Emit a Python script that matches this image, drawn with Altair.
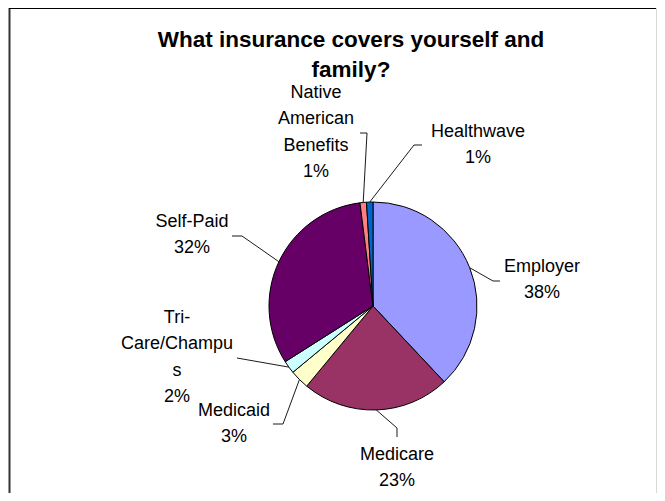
import math
import altair as alt
import pandas as pd

# ---- data ----
categories = ["Employer", "Medicare", "Medicaid", "Tri-Care/Champus", "Self-Paid",
              "Native American Benefits", "Healthwave"]
shares = [38, 23, 3, 2, 32, 1, 1]
label_lines = [
    ["Employer", "38%"],
    ["Medicare", "23%"],
    ["Medicaid", "3%"],
    ["Tri-", "Care/Champu", "s", "2%"],
    ["Self-Paid", "32%"],
    ["Native", "American", "Benefits", "1%"],
    ["Healthwave", "1%"],
]
colors = ["#9999FF", "#993366", "#FFFFCC", "#CCFFFF", "#660066", "#FF8080", "#0066CC"]
title_lines = ["What insurance covers yourself and", "family?"]

# ---- layout (plot-area pixels) ----
W, H = 649, 485
CX, CY, R = 365, 298, 104
# label anchor: centre x, first-line baseline y
label_x = [534, 389, 226, 169, 184, 308, 470]
label_y = [264, 452, 408, 315, 219, 90, 129]
# leader line elbow and end points
elbow = [(485, 273), (389, 420), (275, 416), (229, 350), (234, 228), (359, 125), (406, 137)]
lend = [(492, 273), (389, 429), (265, 416), (229, 350), (224, 228), (352, 125), (414, 137)]

df = pd.DataFrame({"name": categories, "value": shares, "idx": list(range(len(shares)))})

total = sum(shares)
cum = 0
line_rows = []
for i, v in enumerate(shares):
    mid = (cum + v / 2) / total * 2 * math.pi
    cum += v
    ax = CX + R * math.sin(mid)
    ay = CY - R * math.cos(mid)
    pts = [(ax, ay), elbow[i], lend[i]]
    for k, (px, py) in enumerate(pts):
        line_rows.append({"name": categories[i], "k": k, "px": px, "py": py})
lines_df = pd.DataFrame(line_rows)

labels_df = pd.DataFrame({
    "name": categories,
    "txt": ["\n".join(l) for l in label_lines],
    "lx": label_x,
    "ly": label_y,
})

pie = alt.Chart(df).mark_arc(outerRadius=R, stroke="black", strokeWidth=1).encode(
    theta=alt.Theta("value:Q", stack=True),
    color=alt.Color("name:N", scale=alt.Scale(domain=categories, range=colors), legend=None),
    order=alt.Order("idx:Q"),
    x=alt.value(CX),
    y=alt.value(CY),
)

leaders = alt.Chart(lines_df).mark_line(color="black", strokeWidth=0.9).encode(
    x=alt.X("px:Q", scale=None),
    y=alt.Y("py:Q", scale=None),
    detail="name:N",
    order="k:Q",
)

labels = alt.Chart(labels_df).mark_text(
    font="Liberation Sans", fontSize=18, lineBreak="\n", lineHeight=26.3,
    align="center", baseline="alphabetic", color="black",
).encode(
    x=alt.X("lx:Q", scale=None),
    y=alt.Y("ly:Q", scale=None),
    text="txt:N",
)

title_df = pd.DataFrame({"t": ["\n".join(title_lines)]})
title = alt.Chart(title_df).mark_text(
    font="Liberation Sans", fontWeight="bold", fontSize=22.5, lineBreak="\n", lineHeight=30,
    align="center", baseline="alphabetic", color="black",
).encode(x=alt.value(343), y=alt.value(39), text="t:N")

border_left = alt.Chart(title_df).mark_rule(color="#333333", strokeWidth=2).encode(
    x=alt.value(1.5), y=alt.value(0), y2=alt.value(H))
border_top = alt.Chart(title_df).mark_rule(color="black", strokeWidth=1).encode(
    x=alt.value(1), x2=alt.value(W), y=alt.value(0.5))
border_right = alt.Chart(title_df).mark_rule(color="#d8d8d8", strokeWidth=1).encode(
    x=alt.value(W - 0.5), y=alt.value(0), y2=alt.value(H))

chart = alt.layer(border_left, border_top, border_right, pie, leaders, labels, title).properties(
    width=W, height=H, padding=0, autosize=alt.AutoSizeParams(type="none"),
).configure_view(stroke=None)

chart.save("out.html", embed_options={"renderer": "svg", "actions": False})
